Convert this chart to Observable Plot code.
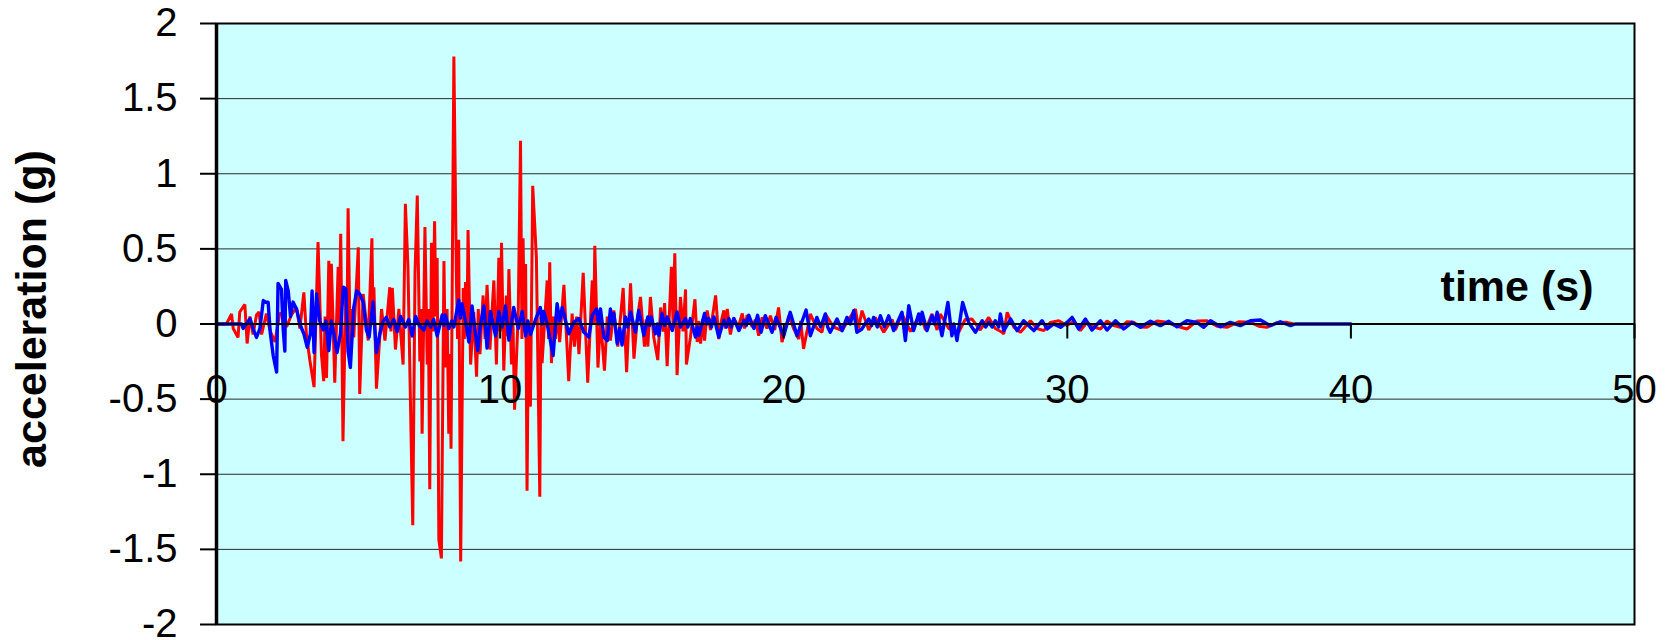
<!DOCTYPE html>
<html><head><meta charset="utf-8">
<script src="https://cdn.jsdelivr.net/npm/d3@7"></script>
<script src="https://cdn.jsdelivr.net/npm/@observablehq/plot@0.6"></script>
<style>body{margin:0;background:#fff} svg{display:block}</style>
</head><body><div id="chart"></div>
<script>
const xTicks = [0, 10, 20, 30, 40, 50];
const yTicks = [-2, -1.5, -1, -0.5, 0, 0.5, 1, 1.5, 2];
const xLabel = "time (s)";
const yLabel = "acceleration (g)";

// red trace: [time (s), acceleration (g)]
const redSeries = [[0,0],[0.35,0],[0.53,0.067],[0.59,-0.03],[0.76,-0.09],[0.82,0.08],[1.0,0.13],[1.08,-0.13],[1.18,0.05],[1.29,-0.07],[1.41,0.06],[1.5,0.08],[1.59,-0.07],[1.76,0.07],[1.88,-0.04],[2.06,-0.12],[2.23,0.07],[2.35,0.07],[2.47,-0.02],[2.64,0.06],[2.82,0.11],[2.94,-0.03],[3.08,0.21],[3.17,-0.07],[3.29,-0.24],[3.44,-0.42],[3.58,0.545],[3.70,-0.20],[3.78,-0.38],[3.83,0.05],[3.88,-0.36],[3.96,0.42],[4.0,0.0],[4.05,0.40],[4.17,-0.39],[4.29,0.38],[4.33,0.0],[4.38,0.60],[4.46,-0.78],[4.56,0.24],[4.60,-0.05],[4.64,0.77],[4.72,-0.20],[4.78,0.1],[4.84,-0.09],[5.0,0.51],[5.05,-0.465],[5.17,0.20],[5.35,-0.11],[5.48,0.57],[5.52,0.0],[5.55,0.245],[5.64,-0.43],[5.82,0.10],[5.94,-0.11],[6.11,0.245],[6.15,-0.05],[6.20,0.24],[6.31,-0.17],[6.43,0.10],[6.58,-0.27],[6.66,0.80],[6.75,0.39],[6.92,-1.34],[7.0,0.34],[7.08,0.855],[7.17,-0.25],[7.21,0.1],[7.25,-0.73],[7.35,0.646],[7.43,-0.27],[7.47,0.1],[7.52,-1.10],[7.58,0.54],[7.63,-0.05],[7.69,0.684],[7.74,0.05],[7.78,0.44],[7.84,-1.435],[7.93,-1.56],[8.02,0.42],[8.07,-0.29],[8.13,0.1],[8.19,-0.73],[8.23,-0.2],[8.27,-0.83],[8.37,1.78],[8.46,0.29],[8.50,-0.1],[8.54,0.56],[8.61,-1.58],[8.70,0.24],[8.74,-0.1],[8.78,0.28],[8.83,-0.05],[8.87,0.625],[8.96,-0.27],[9.07,0.08],[9.17,-0.35],[9.23,0.1],[9.29,-0.20],[9.40,0.19],[9.47,-0.1],[9.54,0.26],[9.64,-0.17],[9.78,0.29],[9.87,-0.27],[9.955,0.44],[10.0,-0.05],[10.05,0.54],[10.13,-0.31],[10.22,0.19],[10.27,-0.08],[10.31,0.365],[10.40,-0.27],[10.45,0.05],[10.51,-0.57],[10.64,0.08],[10.72,1.22],[10.77,-0.1],[10.81,0.57],[10.86,-0.05],[10.90,0.40],[10.95,-1.11],[11.0,0.0],[11.07,-0.55],[11.15,0.92],[11.28,0.44],[11.40,-1.15],[11.44,0.05],[11.48,-0.26],[11.66,0.29],[11.71,-0.1],[11.75,0.41],[11.81,-0.26],[11.88,0.05],[11.95,-0.1],[12.01,0.08],[12.10,-0.12],[12.25,0.26],[12.42,-0.38],[12.54,0.07],[12.62,-0.15],[12.70,0.05],[12.78,-0.20],[12.93,0.34],[13.09,-0.39],[13.25,0.29],[13.30,0.0],[13.34,0.52],[13.45,-0.29],[13.54,0.03],[13.68,-0.31],[13.78,0.05],[13.89,-0.11],[14.01,0.09],[14.15,-0.15],[14.34,0.24],[14.46,-0.32],[14.6,0.27],[14.72,-0.23],[14.83,0.02],[14.95,0.18],[15.09,-0.15],[15.15,0.03],[15.21,-0.15],[15.30,0.18],[15.42,-0.09],[15.56,-0.24],[15.66,0.11],[15.75,-0.05],[15.80,0.14],[15.89,-0.28],[16.04,0.38],[16.1,0.0],[16.16,0.47],[16.24,-0.34],[16.36,0.18],[16.45,-0.05],[16.54,0.23],[16.57,-0.27],[16.71,-0.09],[16.80,0.05],[16.87,0.165],[16.95,-0.12],[17.0,0.02],[17.07,-0.13],[17.14,0.03],[17.21,-0.11],[17.30,0.09],[17.42,-0.04],[17.60,0.19],[17.71,-0.10],[17.80,0.02],[17.89,0.09],[17.95,-0.03],[18.01,0.10],[18.12,-0.07],[18.24,0.04],[18.40,-0.02],[18.54,0.07],[18.62,-0.03],[18.71,0.06],[18.89,-0.02],[19.0,0.03],[19.12,-0.078],[19.24,0.044],[19.41,-0.03],[19.53,0.055],[19.68,-0.04],[19.82,0.11],[19.94,-0.12],[20.18,0.055],[20.35,-0.03],[20.53,-0.10],[20.6,0.02],[20.70,-0.166],[20.94,0.067],[21.17,-0.03],[21.35,-0.055],[21.47,0.067],[21.76,-0.02],[22.06,-0.044],[22.29,0.03],[22.53,0.10],[22.64,-0.03],[22.76,0.089],[23.0,-0.04],[23.23,0.044],[23.53,-0.055],[23.82,0.03],[23.94,-0.04],[24.17,0.067],[24.47,-0.05],[24.82,0.067],[25.0,-0.04],[25.23,0.067],[25.41,-0.04],[25.52,0.067],[25.82,-0.03],[26.17,-0.055],[26.4,0.03],[26.64,0.033],[26.93,-0.04],[27.23,0.044],[27.46,-0.03],[27.70,-0.055],[27.76,-0.067],[27.88,0.078],[28.11,-0.02],[28.35,-0.055],[28.7,0.022],[28.93,-0.03],[29.17,-0.044],[29.40,0.01],[29.70,0.022],[29.99,-0.01],[30.23,0.02],[30.46,-0.044],[30.70,0.011],[30.93,-0.02],[31.17,-0.033],[31.4,0.02],[31.64,-0.01],[31.87,-0.022],[32.11,0.015],[32.34,0.011],[32.58,-0.02],[32.81,-0.022],[33.16,0.02],[33.52,0.011],[33.87,-0.015],[34.22,-0.033],[34.57,0.02],[34.93,0.022],[35.28,-0.015],[35.63,-0.022],[36.04,0.015],[36.46,0.011],[36.75,-0.015],[37.04,-0.022],[37.4,0.01],[37.75,0.011],[37.98,0]];

// blue trace: [time (s), acceleration (g)]
const blueSeries = [[0,0],[0.88,0],[0.94,-0.03],[1.18,0.035],[1.29,-0.03],[1.41,-0.09],[1.53,-0.03],[1.65,0.156],[1.74,0.145],[1.82,0.145],[1.90,-0.065],[2.0,-0.21],[2.12,-0.32],[2.17,0.27],[2.29,0.23],[2.35,-0.03],[2.41,-0.18],[2.44,0.29],[2.53,0.22],[2.61,0.05],[2.70,0.146],[2.82,0.10],[2.96,-0.01],[3.08,-0.065],[3.20,-0.155],[3.31,-0.065],[3.37,0.22],[3.44,-0.19],[3.53,0.20],[3.64,0.02],[3.76,-0.04],[3.86,0.02],[3.96,-0.177],[4.05,0.02],[4.14,-0.065],[4.25,-0.19],[4.37,-0.065],[4.47,0.245],[4.56,0.235],[4.64,-0.18],[4.72,-0.29],[4.84,0.11],[4.94,0.22],[5.05,0.20],[5.17,0.146],[5.29,-0.043],[5.38,-0.088],[5.52,0.146],[5.64,-0.19],[5.76,-0.065],[5.88,0.02],[5.99,0.045],[6.11,-0.02],[6.25,0.03],[6.37,-0.05],[6.49,0.05],[6.66,-0.02],[6.78,0.03],[6.90,-0.08],[7.02,0.05],[7.15,-0.01],[7.31,-0.04],[7.42,0.02],[7.55,-0.02],[7.66,0.03],[7.78,-0.08],[7.96,0.06],[8.02,-0.01],[8.07,0.06],[8.19,-0.03],[8.30,0.02],[8.37,-0.02],[8.54,0.16],[8.60,0.04],[8.66,0.135],[8.78,0.02],[8.90,-0.12],[9.01,0.12],[9.10,-0.02],[9.21,-0.176],[9.31,0.0],[9.43,0.12],[9.54,-0.16],[9.66,0.084],[9.84,-0.08],[9.955,0.084],[10.07,-0.02],[10.19,0.12],[10.31,-0.107],[10.48,0.11],[10.64,-0.03],[10.78,0.084],[10.90,-0.08],[10.98,0.02],[11.07,-0.07],[11.25,0.03],[11.42,0.11],[11.48,0.0],[11.54,0.084],[11.66,0.0],[11.78,-0.12],[11.87,-0.21],[12.01,0.135],[12.10,0.02],[12.19,0.11],[12.42,-0.065],[12.6,0.013],[12.78,0.036],[12.95,-0.054],[13.13,-0.087],[13.25,0.058],[13.4,0.10],[13.47,0.0],[13.54,0.10],[13.66,-0.087],[13.78,-0.11],[13.89,0.10],[13.95,0.0],[14.01,0.07],[14.13,-0.13],[14.22,-0.03],[14.3,-0.14],[14.42,0.047],[14.5,-0.02],[14.6,0.08],[14.77,-0.054],[14.89,0.09],[15.07,-0.076],[15.21,0.047],[15.27,-0.01],[15.33,0.047],[15.48,-0.065],[15.55,0.0],[15.6,-0.076],[15.71,0.07],[15.8,-0.01],[15.89,0.047],[16.07,-0.043],[16.24,0.08],[16.36,-0.02],[16.54,0.036],[16.62,-0.02],[16.71,0.036],[16.89,-0.087],[16.95,-0.02],[17.01,-0.076],[17.21,0.07],[17.28,0.0],[17.36,0.036],[17.45,-0.02],[17.54,0.047],[17.71,-0.087],[17.89,0.025],[17.98,-0.02],[18.07,0.036],[18.15,-0.02],[18.24,0.036],[18.42,-0.043],[18.6,0.025],[18.68,-0.01],[18.77,0.058],[18.95,-0.03],[19.08,0.058],[19.2,-0.055],[19.35,0.055],[19.59,-0.055],[19.73,0.044],[20.0,-0.078],[20.23,0.078],[20.47,-0.078],[20.79,0.093],[20.94,-0.078],[21.17,0.044],[21.3,-0.02],[21.47,0.067],[21.55,-0.02],[21.64,-0.055],[21.88,0.033],[22.06,-0.044],[22.23,0.044],[22.35,0.0],[22.47,0.089],[22.58,-0.055],[22.76,-0.033],[22.9,0.01],[23.0,0.033],[23.1,-0.01],[23.17,0.044],[23.3,-0.02],[23.41,0.055],[23.55,-0.02],[23.7,0.055],[23.88,-0.044],[24.17,0.078],[24.29,-0.11],[24.41,0.122],[24.58,-0.044],[24.76,0.067],[24.82,0.0],[24.88,0.078],[25.05,-0.044],[25.23,0.055],[25.32,0.0],[25.41,0.078],[25.58,-0.078],[25.79,0.144],[25.93,-0.078],[26.0,0.0],[26.11,-0.11],[26.31,0.144],[26.52,0.011],[26.76,-0.055],[27.0,0.022],[27.12,-0.02],[27.23,0.011],[27.35,-0.02],[27.46,0.022],[27.58,-0.02],[27.64,0.067],[27.76,-0.044],[28.0,0.033],[28.23,-0.044],[28.46,0.022],[28.82,-0.044],[29.11,0.022],[29.29,-0.033],[29.52,0.0],[29.76,-0.022],[29.99,0.011],[30.17,0.044],[30.4,-0.033],[30.64,0.033],[30.87,-0.04],[31.17,0.022],[31.4,-0.04],[31.7,0.022],[31.99,-0.033],[32.28,0.011],[32.58,-0.022],[32.93,0.018],[33.28,-0.011],[33.58,0.018],[33.87,-0.018],[34.22,0.022],[34.57,0.011],[34.81,-0.022],[35.05,0.022],[35.4,-0.018],[35.75,0.011],[36.1,-0.011],[36.46,0.022],[36.81,0.027],[37.16,-0.011],[37.51,0.015],[37.87,-0.011],[38.04,0],[40,0]];

const toRows = (s) => s.map(([t, a]) => ({t, a}));

const chart = Plot.plot({
  width: 1672, height: 640,
  marginLeft: 216, marginRight: 38, marginTop: 23, marginBottom: 16,
  style: {fontFamily: "'Liberation Sans', Arial, sans-serif", fontSize: "40px", background: "white", overflow: "visible"},
  x: {domain: [xTicks[0], xTicks[xTicks.length - 1]], axis: null},
  y: {domain: [yTicks[0], yTicks[yTicks.length - 1]]},
  marks: [
    Plot.frame({fill: "#CCFFFF"}),
    Plot.gridY(yTicks, {stroke: "#2a2a2a", strokeOpacity: 1, strokeWidth: 1}),
    Plot.line(toRows(redSeries), {x: "t", y: "a", stroke: "#FF0000", strokeWidth: 3, strokeLinejoin: "miter"}),
    Plot.line(toRows(blueSeries), {x: "t", y: "a", stroke: "#0000FF", strokeWidth: 3.4}),
    Plot.ruleY([0], {stroke: "black", strokeWidth: 2}),
    Plot.ruleX(xTicks, {x: d => d, y1: 0, y2: 0, insetBottom: -15, stroke: "black", strokeWidth: 2}),
    Plot.text(xTicks, {x: d => d, y: 0, text: d => String(d), dy: 66, fontSize: 40, fill: "black"}),
    Plot.frame({stroke: "black", strokeWidth: 2}),
    Plot.ruleX([xTicks[0]], {stroke: "black", strokeWidth: 3.5}),
    Plot.axisY(yTicks, {tickSize: 16, tickPadding: 23, tickFormat: d => String(d), fontSize: 40, label: null, strokeWidth: 2}),
    Plot.text([xLabel], {frameAnchor: "right", textAnchor: "end", lineAnchor: "bottom", dx: -41, dy: -23, fontWeight: "bold", fontSize: 43, fill: "black"}),
    Plot.text([yLabel], {frameAnchor: "left", textAnchor: "middle", lineAnchor: "middle", rotate: -90, dx: -184, dy: -15, fontWeight: "bold", fontSize: 43, fill: "black"})
  ]
});
document.getElementById("chart").appendChild(chart);
</script>
</body></html>
